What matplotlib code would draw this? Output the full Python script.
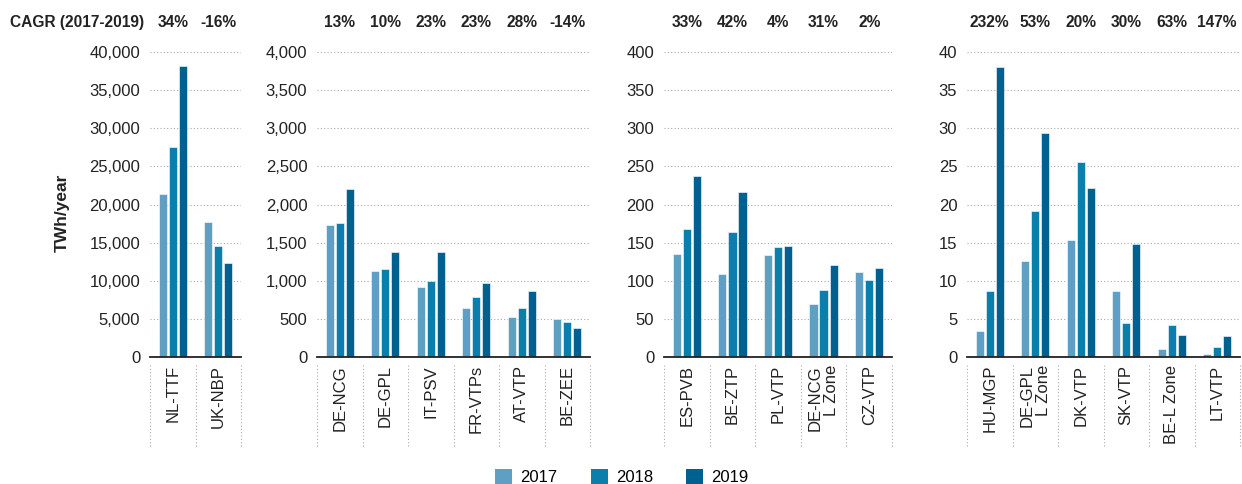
#import libraries
import matplotlib.pyplot as plt
import matplotlib.transforms as mtransforms
from matplotlib.patches import Patch
from matplotlib.ticker import FuncFormatter

plt.rcParams['font.family'] = ['Liberation Sans', 'DejaVu Sans']

#data per panel
years = ['2017', '2018', '2019']
colors = ['#5f9fc4', '#0a7fab', '#00608f']

hubs_1 = ['NL-TTF', 'UK-NBP']
v2017_1 = [21400, 17650]
v2018_1 = [27500, 14550]
v2019_1 = [38200, 12350]
cagr_1 = ['34%', '-16%']

hubs_2 = ['DE-NCG', 'DE-GPL', 'IT-PSV', 'FR-VTPs', 'AT-VTP', 'BE-ZEE']
v2017_2 = [1736, 1132, 914, 643, 529, 503]
v2018_2 = [1762, 1150, 1001, 783, 643, 455]
v2019_2 = [2208, 1373, 1373, 966, 861, 376]
cagr_2 = ['13%', '10%', '23%', '23%', '28%', '-14%']

hubs_3 = ['ES-PVB', 'BE-ZTP', 'PL-VTP', 'DE-NCG\nL Zone', 'CZ-VTP']
v2017_3 = [134.6, 108.4, 133.8, 69.9, 111.9]
v2018_3 = [167.4, 164.4, 144.3, 87.4, 101.4]
v2019_3 = [237.4, 216.4, 145.1, 121.1, 116.3]
cagr_3 = ['33%', '42%', '4%', '31%', '2%']

hubs_4 = ['HU-MGP', 'DE-GPL\nL Zone', 'DK-VTP', 'SK-VTP', 'BE-L Zone', 'LT-VTP']
v2017_4 = [3.4, 12.6, 15.4, 8.7, 1.0, 0.35]
v2018_4 = [8.6, 19.1, 25.6, 4.5, 4.15, 1.27]
v2019_4 = [38.0, 29.4, 22.2, 14.8, 2.85, 2.7]
cagr_4 = ['232%', '53%', '20%', '30%', '63%', '147%']

panels = [
    (hubs_1, [v2017_1, v2018_1, v2019_1], cagr_1, 40000, 5000, [150, 241]),
    (hubs_2, [v2017_2, v2018_2, v2019_2], cagr_2, 4000, 500, [317, 590]),
    (hubs_3, [v2017_3, v2018_3, v2019_3], cagr_3, 400, 50, [664, 892]),
    (hubs_4, [v2017_4, v2018_4, v2019_4], cagr_4, 40, 5, [967, 1240]),
]

W, H = 1242, 484
fig = plt.figure(figsize=(W / 100, H / 100), dpi=100)
y0, y1 = 357, 52  #pixel rows of zero line and top gridline
fs = 12
fsb = 11.2
txt = '#222222'

for hubs, series, cagr, ymax, step, (px0, px1) in panels:
    ax = fig.add_axes([px0 / W, 1 - y0 / H, (px1 - px0) / W, (y0 - y1) / H])
    n = len(hubs)
    xs = list(range(n))
    for i, vals in enumerate(series):
        ax.bar([x + (i - 1) * 0.22 for x in xs], vals, width=0.18, color=colors[i],
               edgecolor='white', linewidth=0.4, zorder=3)
    ax.set_xlim(-0.5, n - 0.5)
    ax.set_ylim(0, ymax)
    ax.set_yticks(range(0, ymax + 1, step))
    ax.yaxis.set_major_formatter(FuncFormatter(lambda v, p: f'{int(v):,}'))
    ax.tick_params(axis='y', length=0, pad=7, labelsize=fs, labelcolor=txt)
    ax.set_xticks([])
    for s in ax.spines.values():
        s.set_visible(False)
    ax.grid(axis='y', linestyle=(0, (1, 2)), color='#aaaaaa', linewidth=0.8, zorder=0)
    ax.axhline(0, color='#222222', linewidth=1.3, zorder=4, clip_on=False)
    trans = mtransforms.blended_transform_factory(ax.transData, ax.transAxes)
    for b in range(n + 1):
        ax.plot([b - 0.5, b - 0.5], [-0.026, -0.295], transform=trans, clip_on=False,
                linestyle=(0, (1, 2)), color='#aaaaaa', linewidth=0.8)
    for x, lab, c in zip(xs, hubs, cagr):
        ax.text(x, -0.026, lab, transform=trans, rotation=90, ha='center', va='top',
                multialignment='right', fontsize=fs, color=txt, linespacing=1.1)
        ax.text(x, (y0 - 22) / (y0 - y1), c, transform=trans, ha='center', va='center',
                fontsize=fsb, fontweight='bold', color=txt)

fig.text(10 / W, 1 - 22 / H, 'CAGR (2017-2019)', ha='left', va='center',
         fontsize=fsb, fontweight='bold', color=txt)
fig.text(62 / W, 1 - 213 / H, 'TWh/year', rotation=90, ha='center', va='center',
         fontsize=12.5, fontweight='bold', color=txt)

handles = [Patch(facecolor=c, label=y) for c, y in zip(colors, years)]
fig.legend(handles=handles, loc='center', bbox_to_anchor=(622 / W, 1 - 477 / H), ncol=3,
           frameon=False, fontsize=fs, handlelength=1.0, handleheight=1.0,
           handletextpad=0.5, columnspacing=2.0)

fig.savefig('out.png', dpi=100, facecolor='white')
plt.close(fig)
